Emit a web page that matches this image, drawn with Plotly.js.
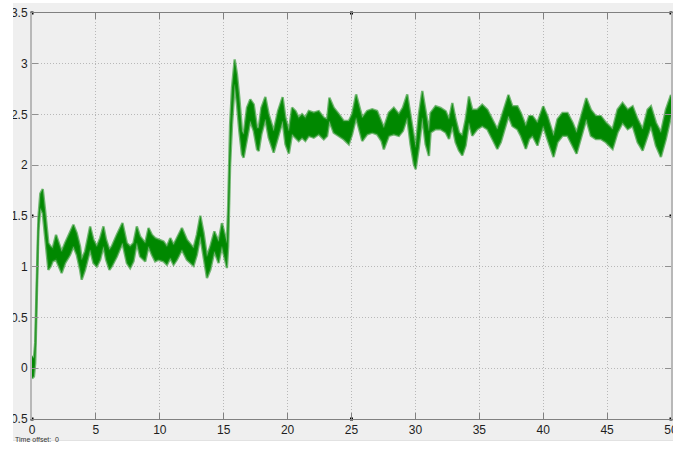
<!DOCTYPE html>
<html>
<head>
<meta charset="utf-8">
<script src="https://cdn.plot.ly/plotly-3.0.1.min.js"></script>
<style>html,body{margin:0;padding:0;background:#fff;}#chart{width:683px;height:457px;}</style>
</head>
<body>
<div id="chart"></div>
<script>
// Time axis samples (s) and the lower / upper edges of the noisy green signal band
const time = [0.0,0.15,0.25,0.37,0.5,0.65,0.84,1.02,1.15,1.28,1.46,1.62,1.88,2.06,2.32,2.59,2.98,3.24,3.5,3.76,3.89,4.15,4.55,4.81,5.07,5.33,5.59,5.8,6.06,6.24,6.64,7.08,7.42,7.68,7.94,8.2,8.46,8.86,9.12,9.38,9.64,9.9,10.29,10.56,10.82,11.08,11.34,11.73,12.12,12.64,12.9,13.17,13.43,13.69,13.95,14.27,14.6,14.86,15.25,15.35,15.5,15.65,15.86,16.04,16.22,16.43,16.56,16.82,17.08,17.35,17.61,17.74,17.95,18.26,18.52,18.91,19.25,19.61,19.83,20.1,20.35,20.61,20.87,21.13,21.39,21.66,22.05,22.44,22.83,23.09,23.27,23.61,24.01,24.39,24.79,25.05,25.36,25.57,25.84,26.23,26.62,27.0,27.35,27.53,27.92,28.31,28.71,29.02,29.36,29.62,29.88,30.02,30.27,30.54,30.8,31.06,31.19,31.58,31.97,32.37,32.63,32.89,33.15,33.41,33.67,33.93,34.19,34.45,34.84,35.23,35.63,36.02,36.41,36.68,36.99,37.28,37.59,37.98,38.25,38.64,38.9,39.16,39.55,40.0,40.33,40.6,40.81,41.12,41.51,41.9,42.3,42.61,43.08,43.37,43.73,44.12,44.51,44.91,45.43,45.82,46.21,46.61,47.0,47.39,47.78,48.17,48.43,48.82,49.21,49.6,50.0];
const envLow = [-0.10,-0.08,0.05,0.70,1.35,1.58,1.53,1.30,1.135,0.97,1.003,1.053,1.069,1.020,0.938,1.036,1.118,1.200,1.118,0.970,0.872,0.970,1.167,1.036,1.003,1.069,1.200,1.069,0.970,1.003,1.102,1.233,1.036,0.987,1.053,1.233,1.102,1.053,1.200,1.118,1.053,1.069,1.053,1.020,1.085,1.020,1.069,1.167,1.069,1.010,1.118,1.299,1.102,0.888,0.970,1.151,1.036,1.200,0.987,1.20,2.00,2.40,2.797,2.600,2.338,2.108,2.075,2.272,2.436,2.338,2.157,2.141,2.305,2.452,2.272,2.125,2.272,2.436,2.207,2.115,2.305,2.272,2.239,2.272,2.239,2.289,2.272,2.305,2.256,2.289,2.436,2.321,2.289,2.256,2.207,2.305,2.469,2.370,2.239,2.305,2.321,2.305,2.239,2.157,2.289,2.305,2.289,2.338,2.469,2.207,2.010,1.961,2.174,2.469,2.207,2.092,2.323,2.355,2.355,2.323,2.258,2.387,2.226,2.145,2.097,2.194,2.419,2.290,2.355,2.387,2.355,2.258,2.161,2.226,2.355,2.484,2.387,2.355,2.290,2.161,2.258,2.290,2.194,2.387,2.258,2.161,2.081,2.226,2.290,2.290,2.194,2.113,2.323,2.452,2.290,2.258,2.258,2.226,2.161,2.323,2.419,2.355,2.387,2.226,2.145,2.290,2.387,2.194,2.081,2.258,2.484];
const envHigh = [0.12,0.10,0.25,0.85,1.48,1.72,1.765,1.56,1.365,1.233,1.200,1.184,1.315,1.250,1.151,1.233,1.348,1.414,1.332,1.200,1.069,1.151,1.397,1.266,1.200,1.282,1.397,1.266,1.167,1.200,1.315,1.430,1.233,1.200,1.233,1.397,1.299,1.233,1.381,1.315,1.282,1.266,1.250,1.200,1.282,1.217,1.282,1.381,1.266,1.184,1.315,1.502,1.332,1.102,1.200,1.348,1.250,1.430,1.233,1.60,2.40,2.764,3.043,2.895,2.666,2.338,2.305,2.567,2.649,2.600,2.370,2.370,2.567,2.672,2.502,2.338,2.534,2.672,2.469,2.338,2.567,2.534,2.469,2.502,2.469,2.534,2.518,2.534,2.469,2.452,2.666,2.567,2.502,2.436,2.436,2.502,2.698,2.600,2.469,2.534,2.551,2.534,2.436,2.370,2.518,2.567,2.502,2.567,2.698,2.502,2.272,2.174,2.502,2.731,2.534,2.338,2.516,2.581,2.565,2.532,2.452,2.613,2.452,2.323,2.290,2.452,2.677,2.548,2.548,2.597,2.548,2.452,2.355,2.452,2.581,2.694,2.581,2.581,2.516,2.387,2.484,2.484,2.419,2.581,2.484,2.387,2.290,2.452,2.516,2.516,2.419,2.323,2.548,2.661,2.548,2.484,2.484,2.419,2.355,2.548,2.613,2.548,2.581,2.452,2.355,2.548,2.581,2.419,2.323,2.548,2.694];

// Axis ranges and tick labels
const xRange = [0, 50];
const yRange = [-0.5, 3.5];
const xTicks = [0, 5, 10, 15, 20, 25, 30, 35, 40, 45, 50];
const xTickText = ["0","5","10","15","20","25","30","35","40","45","50"];
const yTicks = [3.5, 3, 2.5, 2, 1.5, 1, 0.5, 0, -0.5];
const yTickText = ["3.5","3","2.5","2","1.5","1","0.5","0","-0.5"];
const offsetLabel = "Time offset:  0";

const green = "rgb(0,136,0)";
const edge = "rgba(30,145,30,0.6)";

const xMid = (xRange[0] + xRange[1]) / 2;
const yMid = (yRange[0] + yRange[1]) / 2;
const cornerX = [xRange[0], xMid, xRange[1], xRange[0], xRange[1], xRange[0], xMid, xRange[1]];
const cornerY = [yRange[1], yRange[1], yRange[1], yMid, yMid, yRange[0], yRange[0], yRange[0]];

const traces = [
  {x: time, y: envLow, mode: "lines", line: {color: edge, width: 2.4}, hoverinfo: "skip", showlegend: false},
  {x: time, y: envHigh, mode: "lines", fill: "tonexty", fillcolor: green, line: {color: edge, width: 2.4}, hoverinfo: "skip", showlegend: false},
  {x: cornerX, y: cornerY, mode: "markers", marker: {symbol: "square", size: 3, color: "#000"}, cliponaxis: false, hoverinfo: "skip", showlegend: false}
];

const W = 683, H = 457, L = 32, R = 12, T = 13, B = 38;
const pw = W - L - R, ph = H - T - B;
const px = v => (v - L) / pw;          // pixel x -> paper x
const py = v => (H - B - v) / ph;      // pixel y -> paper y

const font = {family: "Liberation Sans, Arial, sans-serif", size: 12, color: "#1e1e1e"};

const layout = {
  width: W, height: H,
  margin: {l: L, r: R, t: T, b: B, pad: 0},
  paper_bgcolor: "#ffffff",
  plot_bgcolor: "#efefef",
  showlegend: false,
  font: font,
  xaxis: {
    range: xRange, tickvals: xTicks, ticktext: xTickText,
    showgrid: true, gridcolor: "#b8b8b8", griddash: "1px,2px", gridwidth: 1,
    ticks: "inside", ticklen: 6, tickcolor: "#808080", tickwidth: 1,
    showline: true, linecolor: "#808080", linewidth: 1, mirror: "ticks",
    zeroline: false, tickfont: font, fixedrange: true
  },
  yaxis: {
    range: yRange, tickvals: yTicks, ticktext: yTickText,
    showgrid: true, gridcolor: "#b8b8b8", griddash: "1px,2px", gridwidth: 1,
    ticks: "inside", ticklen: 6, tickcolor: "#909090", tickwidth: 1,
    showline: true, linecolor: "#b8b8b8", linewidth: 2, mirror: "ticks",
    zeroline: false, tickfont: font, fixedrange: true
  },
  shapes: [
    {type: "rect", xref: "paper", yref: "paper", layer: "below",
     x0: px(13), x1: px(673), y0: py(440), y1: py(3),
     fillcolor: "#efefef", line: {width: 0}},
    {type: "rect", xref: "paper", yref: "paper", layer: "above",
     x0: px(-20), x1: px(13), y0: py(470), y1: py(-20), fillcolor: "#ffffff", line: {width: 0}},
    {type: "rect", xref: "paper", yref: "paper", layer: "above",
     x0: px(673), x1: px(700), y0: py(470), y1: py(-20), fillcolor: "#ffffff", line: {width: 0}},
    {type: "line", xref: "paper", yref: "paper", layer: "above",
     x0: px(13), x1: px(673), y0: py(440.5), y1: py(440.5), line: {color: "#e2e2e2", width: 1}}
  ],
  annotations: [
    {text: offsetLabel, xref: "paper", yref: "paper", x: px(13), y: py(439),
     xanchor: "left", yanchor: "middle", showarrow: false,
     font: {family: "Liberation Sans, Arial, sans-serif", size: 7, color: "#333"}}
  ]
};

Plotly.newPlot("chart", traces, layout, {displayModeBar: false, staticPlot: true});
</script>
</body>
</html>
